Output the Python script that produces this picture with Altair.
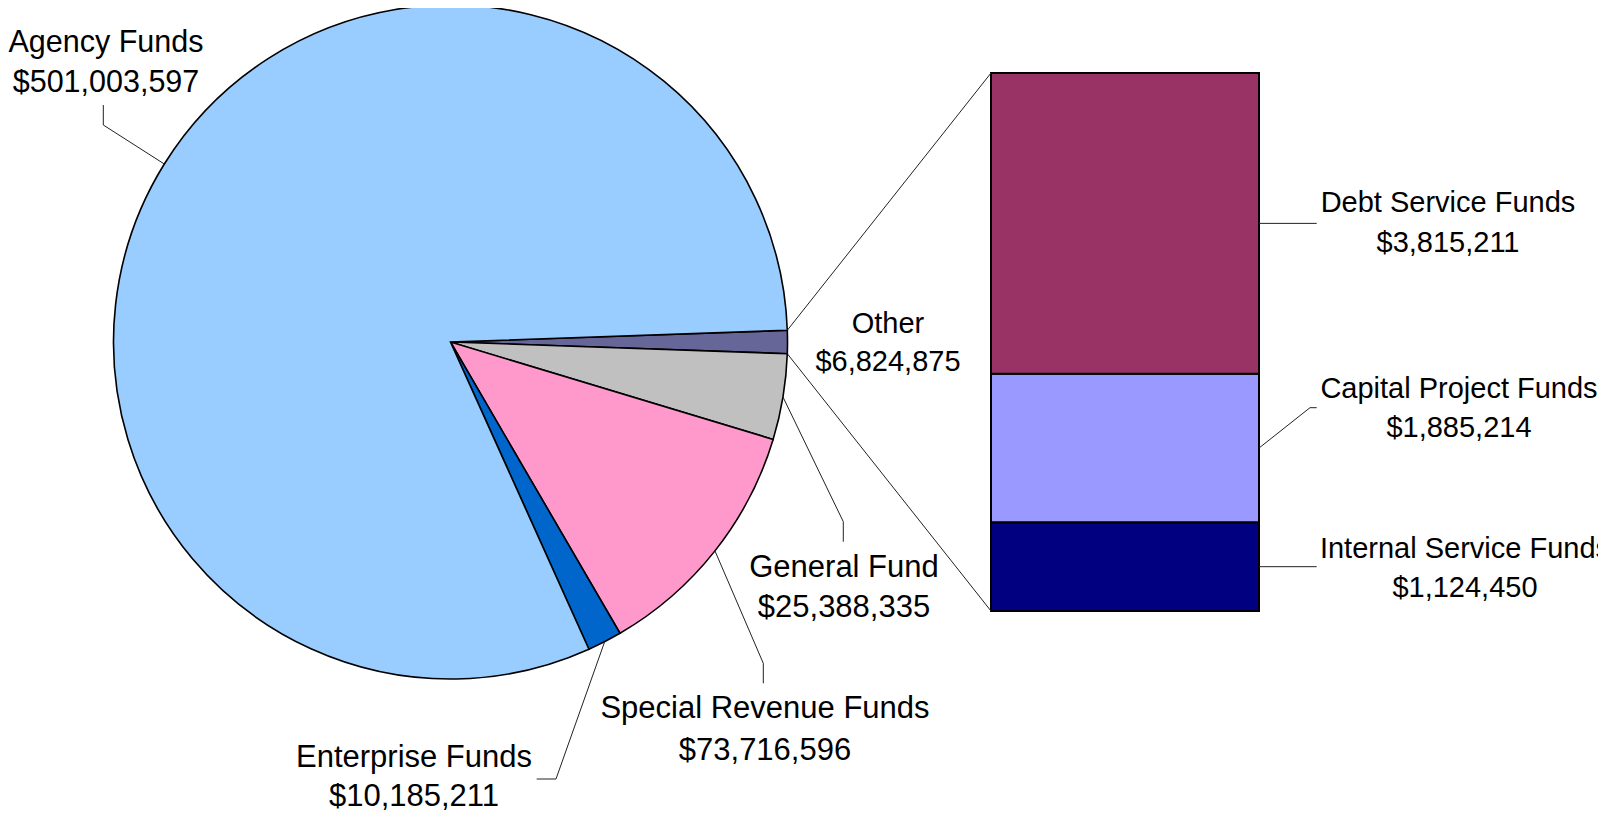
import math
import altair as alt
import pandas as pd

# ---------------- data ----------------
pie_names = ["Other", "General Fund", "Special Revenue Funds", "Enterprise Funds", "Agency Funds"]
pie_values = [6824875, 25388335, 73716596, 10185211, 501003597]
pie_colors = ["#666699", "#C0C0C0", "#FF99CC", "#0066CC", "#99CCFF"]

bar_names = ["Internal Service Funds", "Capital Project Funds", "Debt Service Funds"]
bar_values = [1124450, 1885214, 3815211]
bar_colors = ["#000080", "#9999FF", "#993366"]

# ---------------- layout (page px, minus the 8px page margin) ----------------
OFF = 8
W, H = 1590, 804
CX, CY, R = 450.5 - OFF, 342 - OFF, 337
BX0, BX1, BY_TOP, BY_BOT = 991 - OFF, 1259 - OFF, 73 - OFF, 611 - OFF
FONT = "Liberation Sans"

# label: (centre x, first baseline, font size, line gap)
label_pos = {
    "Agency Funds": (106, 52.3, 30.5, 39.5),
    "Other": (888, 333, 29, 38),
    "General Fund": (844, 576.7, 31, 40.5),
    "Special Revenue Funds": (765, 718.3, 31, 41.5),
    "Enterprise Funds": (414, 767, 31, 39),
    "Debt Service Funds": (1448, 212.3, 29, 39.4),
    "Capital Project Funds": (1459, 398, 29, 38.7),
    "Internal Service Funds": (1465, 558.3, 29, 38.4),
}
pie_leader = {
    "Agency Funds": [(103.3, 125), (103.3, 105)],
    "General Fund": [(843.3, 521.7), (843.3, 541.7)],
    "Special Revenue Funds": [(763.3, 663.3), (763.3, 683.3)],
    "Enterprise Funds": [(556, 779), (536.7, 779)],
}
bar_leader = {
    "Debt Service Funds": [(1316.7, None)],
    "Capital Project Funds": [(1310, 407.7), (1316.7, 407.7)],
    "Internal Service Funds": [(1316.7, None)],
}

# ---------------- derived geometry ----------------
total = sum(pie_values)
other_total = sum(bar_values)
other_frac = pie_values[0] / total
start = math.pi / 2 - other_frac * math.pi  # centre the "Other" slice on 3 o'clock


def edge(theta):
    return CX + R * math.sin(theta), CY - R * math.cos(theta)


pie_df = pd.DataFrame({"name": pie_names, "value": pie_values, "ord": list(range(len(pie_names)))})

b0, b1, c = [], [], 0
for v in bar_values:
    b0.append(c)
    c += v
    b1.append(c)
bar_df = pd.DataFrame({"name": bar_names, "value": bar_values, "v0": b0, "v1": b1})

segs = []
cum = 0
for n, v in zip(pie_names, pie_values):
    a0 = start + 2 * math.pi * cum / total
    a1 = start + 2 * math.pi * (cum + v) / total
    cum += v
    if n in pie_leader:
        pts = [edge((a0 + a1) / 2)] + [(x - OFF, y - OFF) for x, y in pie_leader[n]]
        for p, q in zip(pts[:-1], pts[1:]):
            segs.append({"x": p[0], "y": p[1], "x2": q[0], "y2": q[1]})
    if n == "Other":
        ex0, ey0 = edge(a0)
        ex1, ey1 = edge(a1)
        segs.append({"x": ex0, "y": ey0, "x2": BX0, "y2": BY_TOP})
        segs.append({"x": ex1, "y": ey1, "x2": BX0, "y2": BY_BOT})

cum = 0
for n, v in zip(bar_names, bar_values):
    mid = cum + v / 2
    cum += v
    my = BY_BOT + (BY_TOP - BY_BOT) * mid / other_total
    pts = [(BX1, my)] + [(x - OFF, (y - OFF) if y is not None else my) for x, y in bar_leader[n]]
    for p, q in zip(pts[:-1], pts[1:]):
        segs.append({"x": p[0], "y": p[1], "x2": q[0], "y2": q[1]})
seg_df = pd.DataFrame(segs)

texts = []
for n, v in list(zip(pie_names, pie_values)) + list(zip(bar_names, bar_values)):
    x, y, fs, gap = label_pos[n]
    texts.append({"x": x - OFF, "y": y - OFF, "t": n, "fs": fs})
    texts.append({"x": x - OFF, "y": y - OFF + gap, "t": f"${v:,}", "fs": fs})
text_df = pd.DataFrame(texts)

all_names = pie_names + bar_names
all_colors = pie_colors + bar_colors
color_scale = alt.Scale(domain=all_names, range=all_colors)

pie = alt.Chart(pie_df).mark_arc(radius=R, stroke="black", strokeWidth=1.6).encode(
    theta=alt.Theta("value:Q", stack=True,
                    scale=alt.Scale(domain=[0, total], range=[start, start + 2 * math.pi])),
    order=alt.Order("ord:Q"),
    color=alt.Color("name:N", scale=color_scale, legend=None),
    x=alt.value(CX),
    y=alt.value(CY),
)

bar = alt.Chart(bar_df).mark_bar(stroke="black", strokeWidth=2).encode(
    x=alt.value(BX0),
    x2=alt.value(BX1),
    y=alt.Y("v0:Q",
            scale=alt.Scale(domain=[0, other_total], range=[BY_BOT, BY_TOP], nice=False, zero=True),
            axis=None),
    y2="v1:Q",
    color=alt.Color("name:N", scale=color_scale, legend=None),
)

rules = alt.Chart(seg_df).mark_rule(color="#222222", strokeWidth=1).encode(
    x=alt.X("x:Q", scale=None, axis=None),
    y=alt.Y("y:Q", scale=None, axis=None),
    x2="x2:Q",
    y2="y2:Q",
)

labels = alt.Chart(text_df).mark_text(
    font=FONT, color="black", align="center", baseline="alphabetic"
).encode(
    x=alt.X("x:Q", scale=None, axis=None),
    y=alt.Y("y:Q", scale=None, axis=None),
    text="t:N",
    size=alt.Size("fs:Q", scale=None, legend=None),
)

chart = alt.layer(pie, bar, rules, labels).resolve_scale(
    x="independent", y="independent"
).properties(
    width=W, height=H, padding=0, autosize=alt.AutoSizeParams(type="none")
).configure_view(stroke=None)

chart.save("out.html", embed_options={"renderer": "svg", "actions": False})
